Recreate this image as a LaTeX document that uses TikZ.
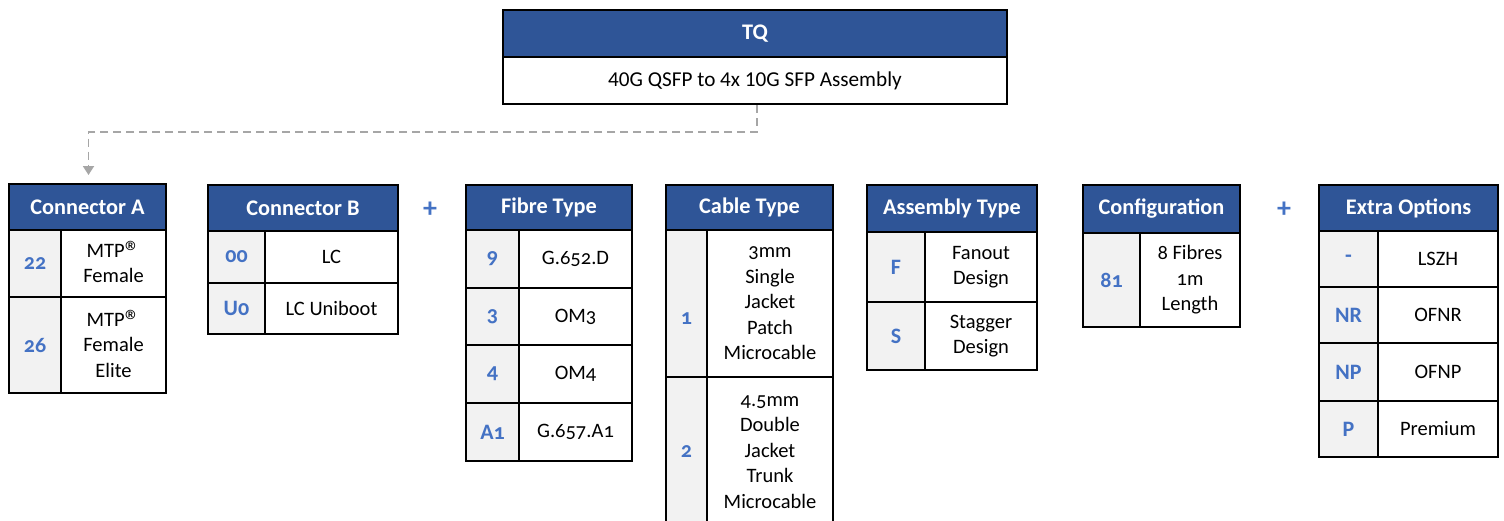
\documentclass[tikz,border=0pt]{standalone}
\usepackage{fontspec}
\setmainfont{Carlito}
\newfontfamily\oldnum{Carlito}[Numbers=OldStyle]
\usetikzlibrary{calc,arrows.meta}
\definecolor{hblue}{HTML}{2F5597}
\definecolor{cblue}{HTML}{4472C4}
\definecolor{cgray}{HTML}{F2F2F2}
\definecolor{dgray}{HTML}{A6A6A6}
\tikzset{
  base/.style={draw=black,line width=1.8pt,anchor=north west,inner sep=0pt,outer sep=0pt},
  hdr/.style={base,fill=hblue,text=white,font=\fontsize{22.3}{26}\selectfont\bfseries},
  codecell/.style={base,fill=cgray,text=cblue,font=\oldnum\fontsize{22}{26}\selectfont\bfseries},
  desccell/.style={base,fill=white,text=black,align=center,font=\oldnum\fontsize{20.5}{25.5}\selectfont},
  titlecell/.style={base,fill=white,text=black,align=center,font=\fontsize{21.2}{25}\selectfont},
  plussign/.style={text=cblue,font=\fontsize{28}{28}\selectfont\bfseries,inner sep=0pt},
  conn/.style={draw=dgray,line width=1.8pt,dash pattern=on 8pt off 5pt,-{Triangle[length=9pt,width=11pt]}},
}
\newcommand\cellbox[7]{\node[#1,minimum width={(#5)-(#3)},minimum height={(#6)-(#4)}] (#2) at (#3,#4) {#7};}
\newcommand\regmark{\raisebox{-5pt}[0pt][0pt]{\scalebox{1.5}{®}}}
\begin{document}
\begin{tikzpicture}[x=1pt,y=-1pt]
\useasboundingbox[fill=white] (0,0) rectangle (1504,520);
% TQ
\cellbox{hdr}{tq-h}{503}{10}{1007}{57}{TQ}
\cellbox{titlecell}{tq-b}{503}{57}{1007}{104}{40G QSFP to 4x 10G SFP Assembly}
% Connector A
\cellbox{hdr}{ca-h}{9}{184}{166}{230}{Connector A}
\cellbox{codecell}{ca-c1}{9}{230}{61}{297}{22}
\cellbox{desccell}{ca-d1}{61}{230}{166}{297}{MTP\regmark\\Female}
\cellbox{codecell}{ca-c2}{9}{297}{61}{393}{26}
\cellbox{desccell}{ca-d2}{61}{297}{166}{393}{MTP\regmark\\Female\\Elite}
% Connector B
\cellbox{hdr}{cb-h}{208}{185}{398}{231}{Connector B}
\cellbox{codecell}{cb-c1}{208}{231}{265}{283}{00}
\cellbox{desccell}{cb-d1}{265}{231}{398}{283}{LC}
\cellbox{codecell}{cb-c2}{208}{283}{265}{334}{U0}
\cellbox{desccell}{cb-d2}{265}{283}{398}{334}{LC Uniboot}
\node[plussign] (plus1) at (430,210) {+};
% Fibre Type
\cellbox{hdr}{ft-h}{466}{185}{632}{230}{Fibre Type}
\cellbox{codecell}{ft-c1}{466}{230}{519}{288}{9}
\cellbox{desccell}{ft-d1}{519}{230}{632}{288}{G.652.D}
\cellbox{codecell}{ft-c2}{466}{288}{519}{345}{3}
\cellbox{desccell}{ft-d2}{519}{288}{632}{345}{OM3}
\cellbox{codecell}{ft-c3}{466}{345}{519}{403}{4}
\cellbox{desccell}{ft-d3}{519}{345}{632}{403}{OM4}
\cellbox{codecell}{ft-c4}{466}{403}{519}{461}{A1}
\cellbox{desccell}{ft-d4}{519}{403}{632}{461}{G.657.A1}
% Cable Type
\cellbox{hdr}{ct-h}{666}{185}{833}{230}{Cable Type}
\cellbox{codecell}{ct-c1}{666}{230}{707}{377}{\raisebox{-21pt}[0pt][0pt]{1}}
\cellbox{desccell}{ct-d1}{707}{230}{833}{377}{3mm\\Single\\Jacket\\Patch\\Microcable}
\cellbox{codecell}{ct-c2}{666}{377}{707}{527}{2}
\cellbox{desccell}{ct-d2}{707}{377}{833}{527}{4.5mm\\Double\\Jacket\\Trunk\\Microcable}
% Assembly Type
\cellbox{hdr}{at-h}{867}{185}{1037}{232}{Assembly Type}
\cellbox{codecell}{at-c1}{867}{232}{925}{302}{F}
\cellbox{desccell}{at-d1}{925}{232}{1037}{302}{Fanout\\Design}
\cellbox{codecell}{at-c2}{867}{302}{925}{370}{S}
\cellbox{desccell}{at-d2}{925}{302}{1037}{370}{Stagger\\Design}
% Configuration
\cellbox{hdr}{cf-h}{1083}{185}{1240}{233}{Configuration}
\cellbox{codecell}{cf-c1}{1083}{233}{1140}{327}{81}
\cellbox{desccell}{cf-d1}{1140}{233}{1240}{327}{8 Fibres\\1m\\Length}
\node[plussign] (plus2) at (1284,210) {+};
% Extra Options
\cellbox{hdr}{eo-h}{1319}{185}{1498}{231}{Extra Options}
\cellbox{codecell}{eo-c1}{1319}{231}{1378}{287}{-}
\cellbox{desccell}{eo-d1}{1378}{231}{1498}{287}{LSZH}
\cellbox{codecell}{eo-c2}{1319}{287}{1378}{343}{NR}
\cellbox{desccell}{eo-d2}{1378}{287}{1498}{343}{OFNR}
\cellbox{codecell}{eo-c3}{1319}{343}{1378}{401}{NP}
\cellbox{desccell}{eo-d3}{1378}{343}{1498}{401}{OFNP}
\cellbox{codecell}{eo-c4}{1319}{401}{1378}{457}{P}
\cellbox{desccell}{eo-d4}{1378}{401}{1498}{457}{Premium}
% connector
\coordinate (ca-in) at ($(ca-h.north)+(1,-9)$);
\draw[conn] ($(tq-b.south)+(2,1)$) -- ++(0,27) -| (ca-in);
\end{tikzpicture}
\end{document}
